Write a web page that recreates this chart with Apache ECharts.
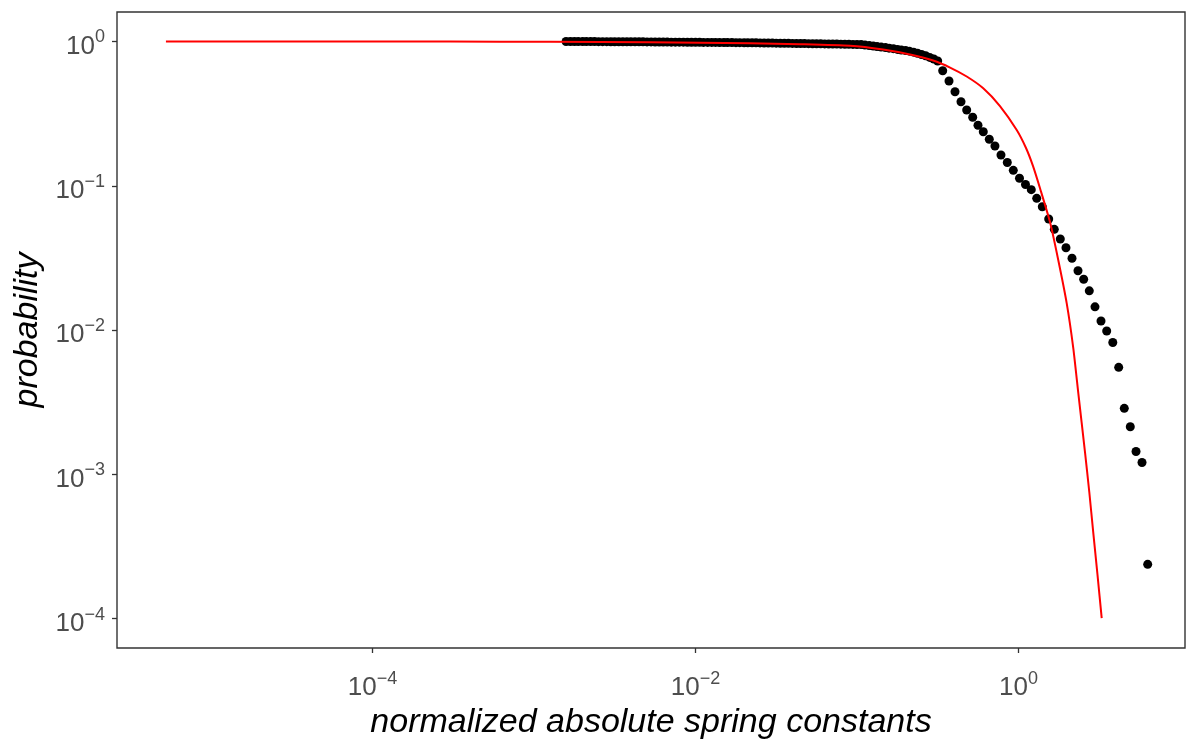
<!DOCTYPE html>
<html>
<head>
<meta charset="utf-8">
<script src="https://cdn.jsdelivr.net/npm/echarts@6.0.0/dist/echarts.min.js"></script>
<style>
    html, body { margin: 0; padding: 0; background: #fff; }
    #main { width: 1199px; height: 740px; }
</style>
</head>
<body>
<div id="main"></div>
<script>
// empirical points (x = normalized spring constant, y = probability)
var pointX = [
    0.00158, 0.00168, 0.00178, 0.00188, 0.00200, 0.00211, 0.00224, 0.00237, 0.00251, 0.00266,
    0.00282, 0.00299, 0.00316, 0.00335, 0.00355, 0.00376, 0.00398, 0.00422, 0.00447, 0.00473,
    0.00501, 0.00531, 0.00562, 0.00596, 0.00631, 0.00668, 0.00708, 0.00750, 0.00794, 0.00841,
    0.00891, 0.00944, 0.0100, 0.0106, 0.0112, 0.0119, 0.0126, 0.0133, 0.0141, 0.0150,
    0.0158, 0.0168, 0.0178, 0.0188, 0.0200, 0.0211, 0.0224, 0.0237, 0.0251, 0.0266,
    0.0282, 0.0299, 0.0316, 0.0335, 0.0355, 0.0376, 0.0398, 0.0422, 0.0447, 0.0473,
    0.0501, 0.0531, 0.0562, 0.0596, 0.0631, 0.0668, 0.0708, 0.0750, 0.0794, 0.0841,
    0.0891, 0.0944, 0.100, 0.106, 0.112, 0.119, 0.126, 0.133, 0.141, 0.150,
    0.158, 0.168, 0.178, 0.188, 0.200, 0.211, 0.224, 0.237, 0.251, 0.266,
    0.282, 0.299, 0.316,
    0.3394, 0.3713, 0.4045, 0.4405, 0.4778, 0.5205, 0.5613, 0.6053, 0.6595, 0.7150,
    0.7790, 0.8525, 0.9286, 1.0144, 1.1050, 1.2003, 1.2966, 1.4042, 1.5383, 1.6662,
    1.8148, 1.9682, 2.1447, 2.3358, 2.5327, 2.7442, 2.9764, 3.2430, 3.5169, 3.8365,
    4.1733, 4.5198, 4.9236, 5.3422, 5.8184, 6.3096
];
var pointY = [
    1.000, 1.000, 0.999, 0.999, 0.999, 0.998, 0.998, 0.998, 0.997, 0.997,
    0.997, 0.996, 0.996, 0.996, 0.995, 0.995, 0.995, 0.994, 0.994, 0.994,
    0.993, 0.993, 0.992, 0.992, 0.991, 0.991, 0.990, 0.990, 0.989, 0.989,
    0.988, 0.988, 0.987, 0.987, 0.986, 0.986, 0.985, 0.985, 0.984, 0.984,
    0.983, 0.983, 0.982, 0.982, 0.981, 0.981, 0.980, 0.979, 0.978, 0.977,
    0.976, 0.975, 0.974, 0.973, 0.972, 0.971, 0.970, 0.969, 0.968, 0.967,
    0.966, 0.965, 0.964, 0.963, 0.962, 0.961, 0.960, 0.959, 0.958, 0.957,
    0.956, 0.955, 0.953, 0.9518, 0.9442, 0.9367, 0.9293, 0.9219, 0.9146, 0.9073,
    0.8987, 0.8916, 0.8817, 0.8733, 0.8650, 0.8567, 0.8431, 0.8284, 0.8127, 0.7960,
    0.7757, 0.7561, 0.7325,
    0.6275, 0.5324, 0.4488, 0.3826, 0.3352, 0.2983, 0.2626, 0.2370, 0.2100, 0.1887,
    0.1634, 0.1450, 0.1280, 0.1127, 0.1021, 0.0940, 0.0819, 0.0716, 0.0589, 0.0499,
    0.0428, 0.0372, 0.0315, 0.0258, 0.0225, 0.0187, 0.0145, 0.01156, 0.00986, 0.00820,
    0.00552, 0.00287, 0.00214, 0.00144, 0.00121, 0.000238
];
// fitted curve
var fitX = [
    5.26e-6, 3.56e-5, 3.02e-4, 1.256e-3, 5.22e-3, 0.0217, 0.0443, 0.0905, 0.145, 0.213,
    0.296, 0.377, 0.478, 0.605, 0.768, 0.975, 1.113, 1.229, 1.359, 1.567,
    1.764, 1.988, 2.184, 2.346, 2.581, 2.744, 2.905, 3.085, 3.275
];
var fitY = [
    1.000, 1.000, 0.998, 0.995, 0.989, 0.973, 0.958, 0.934, 0.880, 0.813,
    0.738, 0.660, 0.572, 0.474, 0.357, 0.2435, 0.1828, 0.1374, 0.0961, 0.0561,
    0.0305, 0.01538, 0.00751, 0.00366, 0.001429, 0.000755, 0.000393, 0.000201, 0.000101
];
// tick positions (powers of ten)
var xTicks = [-4, -2, 0];
var yTicks = [0, -1, -2, -3, -4];

var FONT = '"Liberation Sans", Arial, sans-serif';
var lg = function (v) { return Math.log10(v); };

var pointData = [];
for (var i = 0; i < pointX.length; i++) {
    pointData.push([lg(pointX[i]), lg(pointY[i])]);
}
var fitData = [];
for (var j = 0; j < fitX.length; j++) {
    fitData.push([lg(fitX[j]), lg(fitY[j])]);
}

var powLabel = function (v) {
    var e = Math.round(v);
    return '{b|10}{e|' + (e < 0 ? '\u2212' + Math.abs(e) : e) + '}';
};
// base pushed down a little, exponent raised, so the whole "10^n" sits centred
var labelRich = {
    b: {fontSize: 26, color: '#4d4d4d', fontFamily: FONT, padding: [10, 0, 0, 0]},
    e: {fontSize: 18, color: '#4d4d4d', fontFamily: FONT, padding: [0, 0, 8, 0]}
};

var chart = echarts.init(document.getElementById('main'));
var option = {
    animation: false,
    backgroundColor: '#fff',
    grid: {
        left: 117, right: 14, top: 12, bottom: 92,
        show: true, borderColor: '#333', borderWidth: 1.4,
        outerBoundsMode: 'none'
    },
    xAxis: {
        type: 'value',
        min: -5.582, max: 1.031,
        splitLine: {show: false},
        axisLine: {show: false, onZero: false},
        axisTick: {show: true, customValues: xTicks, length: 5, lineStyle: {color: '#333', width: 1.3}},
        axisLabel: {customValues: xTicks, formatter: powLabel, rich: labelRich, margin: 17},
        name: 'normalized absolute spring constants',
        nameLocation: 'middle',
        nameGap: 52,
        nameTextStyle: {fontStyle: 'italic', fontSize: 34, color: '#000', fontFamily: FONT}
    },
    yAxis: {
        type: 'value',
        min: -4.203, max: 0.2044,
        splitLine: {show: false},
        axisLine: {show: false, onZero: false},
        axisTick: {show: true, customValues: yTicks, length: 5, lineStyle: {color: '#333', width: 1.3}},
        axisLabel: {customValues: yTicks, formatter: powLabel, rich: labelRich, margin: 12},
        name: 'probability',
        nameLocation: 'middle',
        nameGap: 70,
        nameTextStyle: {fontStyle: 'italic', fontSize: 34, color: '#000', fontFamily: FONT}
    },
    series: [
        {
            type: 'scatter',
            data: pointData,
            symbolSize: 9,
            itemStyle: {color: '#000', opacity: 1},
            z: 2
        },
        {
            type: 'line',
            data: fitData,
            showSymbol: false,
            smooth: 0.2,
            lineStyle: {color: '#ff0000', width: 2},
            z: 3
        }
    ]
};
chart.setOption(option);
</script>
</body>
</html>
